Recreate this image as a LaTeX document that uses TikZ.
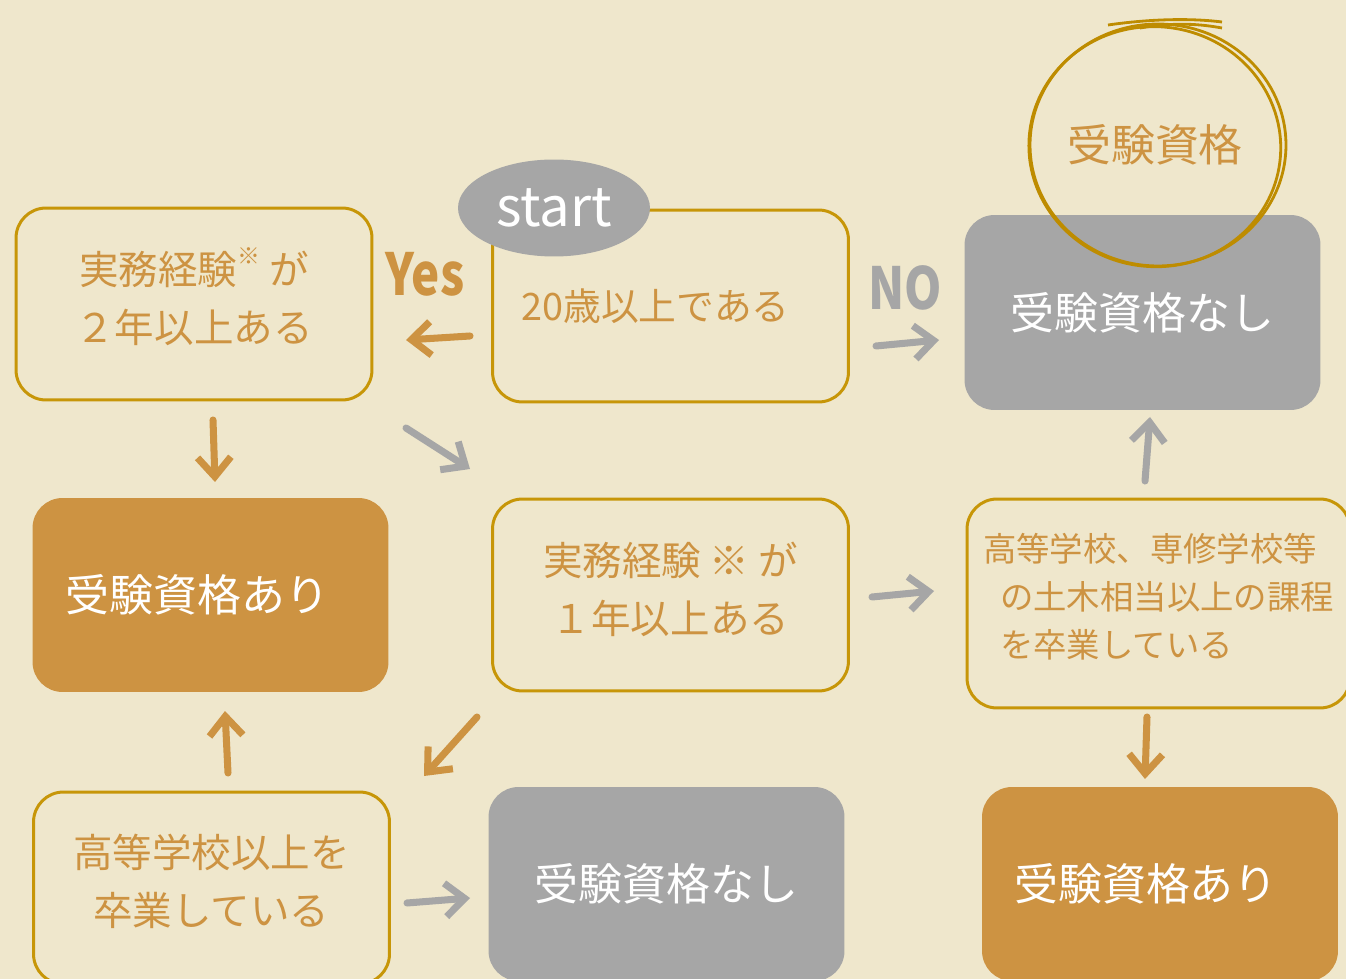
\documentclass[tikz,border=0pt]{standalone}
\usepackage{fontspec}
\setmainfont{Noto Sans CJK JP}
\usetikzlibrary{arrows.meta,shapes.geometric}
\definecolor{bg}{RGB}{239,231,204}
\definecolor{gold}{RGB}{199,150,8}
\definecolor{ora}{RGB}{205,147,66}
\definecolor{gry}{RGB}{166,166,166}
\definecolor{ring}{RGB}{190,140,0}
\newcommand{\lowstrut}[1]{\rule[-#1]{0pt}{0pt}}
\begin{document}
\begin{tikzpicture}[x=0.02cm,y=-0.02cm,
  box/.style={rounded corners=0.6cm, minimum width=7.12cm, minimum height=3.84cm, inner sep=0pt, align=center},
  qbox/.style={box, draw=gold, line width=1.7pt, fill=bg, text=ora},
  nobox/.style={box, fill=gry, text=white},
  okbox/.style={box, fill=ora, text=white},
  jt/.style={font=\fontsize{22.5}{33}\selectfont},
  big/.style={font=\fontsize{25}{30}\selectfont},
  ar/.style={line width=4pt, line cap=round, line join=round, -{Straight Barb[length=11pt,width=19pt]}},
  arO/.style={ar, draw=ora},
  arG/.style={ar, draw=gry},
  lab/.style={font=\bfseries\fontsize{33}{33}\selectfont},
  ringline/.style={draw=ring, line width=1.6pt},
]
\useasboundingbox (0,0) rectangle (1346,979);
\fill[bg] (0,0) rectangle (1346,979);

% boxes
\node[qbox, jt] (A) at (194,304) {実務経験\raisebox{0.5em}{\fontsize{13}{13}\selectfont ※} が\\２年以上ある\lowstrut{0.35cm}};
\node[qbox, font=\fontsize{21.5}{26}\selectfont] (B) at (670.5,306) {20歳以上である\hspace*{0.6cm}};
\node[ellipse, fill=gry, minimum width=3.84cm, minimum height=1.94cm, inner sep=0pt, text=white, font=\fontsize{31}{31}\selectfont] (S) at (554,208) {start};
\node[nobox, big, minimum height=3.9cm] (C) at (1142.5,312.5) {受験資格なし};
\node[okbox, big, minimum height=3.88cm] (D) at (210.5,595) {受験資格あり\hspace*{0.52cm}};
\node[qbox, jt] (E) at (670.5,595) {実務経験 ※ が\\１年以上ある\lowstrut{0.3cm}};
\node[qbox, font=\fontsize{19}{27.5}\selectfont, align=left, minimum width=7.66cm, minimum height=4.18cm] (F) at (1158.5,603.5) {高等学校、専修学校等\\\hspace*{0.34cm}の土木相当以上の課程\\\hspace*{0.34cm}を卒業している\lowstrut{0.33cm}};
\node[qbox, jt, align=left] (G) at (211.5,888) {高等学校以上を\\\hspace*{0.4cm}卒業している\lowstrut{0.33cm}};
\node[nobox, big, minimum height=3.88cm] (H) at (666.5,884) {受験資格なし};
\node[okbox, big, minimum height=3.88cm] (I) at (1160,884) {受験資格あり\hspace*{0.56cm}};

% ring
\draw[ringline] (1158,145) ellipse [x radius=2.56cm, y radius=2.42cm];
\draw[ringline, rotate around={-6:(1158,145)}] (1155,147) ellipse [x radius=2.52cm, y radius=2.40cm];
\draw[ringline] (1108,25) .. controls (1150,19) and (1190,18) .. (1222,22);
\draw[ringline] (1140,28) .. controls (1175,22) and (1200,24) .. (1222,28);
\node[text=ora, big] (Q) at (1155,145) {受験資格};

% labels
\node[lab, text=ora] (yes) at (425,274) {\scalebox{0.82}[1]{Yes}};
\node[lab, text=gry] (no) at (905,288) {\scalebox{0.82}[1]{NO}};

% arrows
\coordinate (a1) at (470,336); \coordinate (a2) at (406,340);
\coordinate (b1) at (876,346); \coordinate (b2) at (939,340);
\coordinate (c1) at (213,420); \coordinate (c2) at (215,482);
\coordinate (d1) at (406,428); \coordinate (d2) at (470,469);
\coordinate (e1) at (872,597); \coordinate (e2) at (934,591);
\coordinate (f1) at (1145,481); \coordinate (f2) at (1150,417);
\coordinate (g1) at (477,717); \coordinate (g2) at (424,776);
\coordinate (h1) at (228,773); \coordinate (h2) at (225,711);
\coordinate (i1) at (407,903); \coordinate (i2) at (470,898);
\coordinate (j1) at (1147,717); \coordinate (j2) at (1145,779);
\draw[arO] (a1) -- (a2);
\draw[arG] (b1) -- (b2);
\draw[arO] (c1) -- (c2);
\draw[arG] (d1) -- (d2);
\draw[arG] (e1) -- (e2);
\draw[arG] (f1) -- (f2);
\draw[arO] (g1) -- (g2);
\draw[arO] (h1) -- (h2);
\draw[arG] (i1) -- (i2);
\draw[arO] (j1) -- (j2);
\end{tikzpicture}
\end{document}
